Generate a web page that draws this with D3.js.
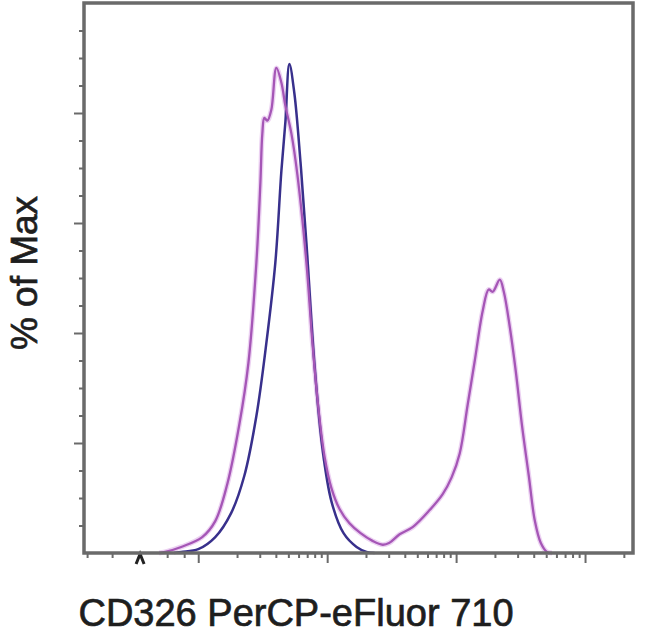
<!DOCTYPE html>
<html>
<head>
<meta charset="utf-8">
<script src="https://cdn.jsdelivr.net/npm/d3@7"></script>
<style>
  html, body { margin: 0; padding: 0; background: #fff; }
  svg { display: block; }
</style>
</head>
<body>
<svg id="chart" width="650" height="634"></svg>
<script>
// ---- DATA (x in log10 fluorescence units, y in % of max) ----
const isotypeX = [1.814,1.868,2.000,2.132,2.256,2.357,2.451,2.528,2.598,2.645,2.676,2.707,2.746,2.793,2.839,2.901,2.963,3.033,3.127,3.228,3.305,3.368];
const isotypeY = [0,0.2,0.7,2.9,7.3,14.0,24.9,38.1,52.8,69.5,78.4,88.9,83.5,71.1,56.4,34.5,19.1,9.4,3.6,1.1,0.2,0];

const cd326X = [1.697,1.744,1.868,2.031,2.132,2.225,2.319,2.389,2.451,2.482,2.497,2.513,2.536,2.567,2.606,2.645,2.676,2.723,2.769,2.839,2.886,2.932,2.979,3.033,3.096,3.173,3.259,3.352,3.430,3.480,3.562,3.663,3.795,3.896,3.966,4.028,4.090,4.145,4.207,4.253,4.284,4.339,4.370,4.417,4.463,4.510,4.564,4.611,4.657,4.704,4.743];
const cd326Y = [0,0.2,1.1,2.9,5.8,12.5,23.4,34.5,52.8,67.3,76.2,79.1,78.6,80.6,88.2,85.5,81.3,76.2,68.8,52.8,38.1,26.3,17.6,11.8,8.0,5.4,3.6,2.2,1.5,1.8,3.4,4.7,7.8,10.7,13.8,18.1,27.0,35.0,44.1,47.9,47.5,49.7,47.5,41.0,33.0,23.4,14.0,5.8,1.8,0.2,0];

const xMajorTicks = [2, 3, 4, 5];
const xLowTicks = [1.138, 1.332, 1.549, 1.759, 1.891];
const yMajorTicks = [20, 40, 60, 80];
const yMinorStep = 5;
const xDomain = [1.114, 5.372];
const yDomain = [0, 100];
const xLabel = "CD326 PerCP-eFluor 710";
const yLabel = "% of Max";

// ---- LAYOUT ----
const L = 84, R = 633, T = 3, B = 553;
const svg = d3.select("#chart");
const x = d3.scaleLinear().domain(xDomain).range([L, R]);
const y = d3.scaleLinear().domain(yDomain).range([B, T]);

// minor x ticks (log style)
const xMinorTicks = [];
for (let d = 2; d <= 5; d++) {
  for (let k = 2; k <= 9; k++) {
    const v = d + Math.log10(k);
    if (v < xDomain[1]) xMinorTicks.push(v);
  }
}
const yMinorTicks = d3.range(yDomain[0] + yMinorStep, yDomain[1], yMinorStep).filter(v => !yMajorTicks.includes(v));

const axisColor = "#6a6a6a";

// x axis ticks
const gx = svg.append("g").attr("transform", `translate(0,${B})`);
gx.call(d3.axisBottom(x).tickValues(xMajorTicks).tickSize(10).tickFormat(""))
  .call(g => g.select(".domain").remove());
gx.append("g").call(d3.axisBottom(x).tickValues(xMinorTicks.concat(xLowTicks)).tickSize(5).tickFormat(""))
  .call(g => g.select(".domain").remove());
gx.selectAll("line").attr("stroke", axisColor).attr("stroke-width", 2);
// dark marker under zero region
gx.append("path")
  .attr("d", `M${x(1.549) - 4},${11} L${x(1.549)},${1} L${x(1.549) + 4},${11}`)
  .attr("fill", "none").attr("stroke", "#222").attr("stroke-width", 3);

// y axis ticks
const gy = svg.append("g").attr("transform", `translate(${L},0)`);
gy.call(d3.axisLeft(y).tickValues(yMajorTicks).tickSize(10).tickFormat(""))
  .call(g => g.select(".domain").remove());
gy.append("g").call(d3.axisLeft(y).tickValues(yMinorTicks).tickSize(5).tickFormat(""))
  .call(g => g.select(".domain").remove());
gy.selectAll("line").attr("stroke", axisColor).attr("stroke-width", 2);

// curves
const line = d3.line().x(d => x(d[0])).y(d => y(d[1])).curve(d3.curveCatmullRom.alpha(0.5));
const isoData = isotypeX.map((v, i) => [v, isotypeY[i]]);
const cdData = cd326X.map((v, i) => [v, cd326Y[i]]);

svg.append("path").datum(cdData).attr("d", line)
  .attr("fill", "none").attr("stroke", "#ecd2f2").attr("stroke-width", 5).attr("stroke-linejoin", "round");
svg.append("path").datum(isoData).attr("d", line)
  .attr("fill", "none").attr("stroke", "#38308c").attr("stroke-width", 2.5).attr("stroke-linejoin", "round");
svg.append("path").datum(cdData).attr("d", line)
  .attr("fill", "none").attr("stroke", "#a556b6").attr("stroke-width", 2.3).attr("stroke-linejoin", "round");

// frame
svg.append("rect")
  .attr("x", L).attr("y", T).attr("width", R - L).attr("height", B - T)
  .attr("fill", "none").attr("stroke", axisColor).attr("stroke-width", 3.5);

// labels
svg.append("text")
  .attr("x", (77 + 515) / 2).attr("y", 626)
  .attr("text-anchor", "middle")
  .attr("font-family", "Liberation Sans, Arial, sans-serif")
  .attr("font-size", 38)
  .attr("fill", "#1e1e1e")
  .attr("stroke", "#1e1e1e").attr("stroke-width", 0.7)
  .text(xLabel);

svg.append("text")
  .attr("transform", `translate(37,273) rotate(-90)`)
  .attr("text-anchor", "middle")
  .attr("font-family", "Liberation Sans, Arial, sans-serif")
  .attr("font-size", 37)
  .attr("fill", "#1e1e1e")
  .attr("stroke", "#1e1e1e").attr("stroke-width", 0.7)
  .text(yLabel);
</script>
</body>
</html>
